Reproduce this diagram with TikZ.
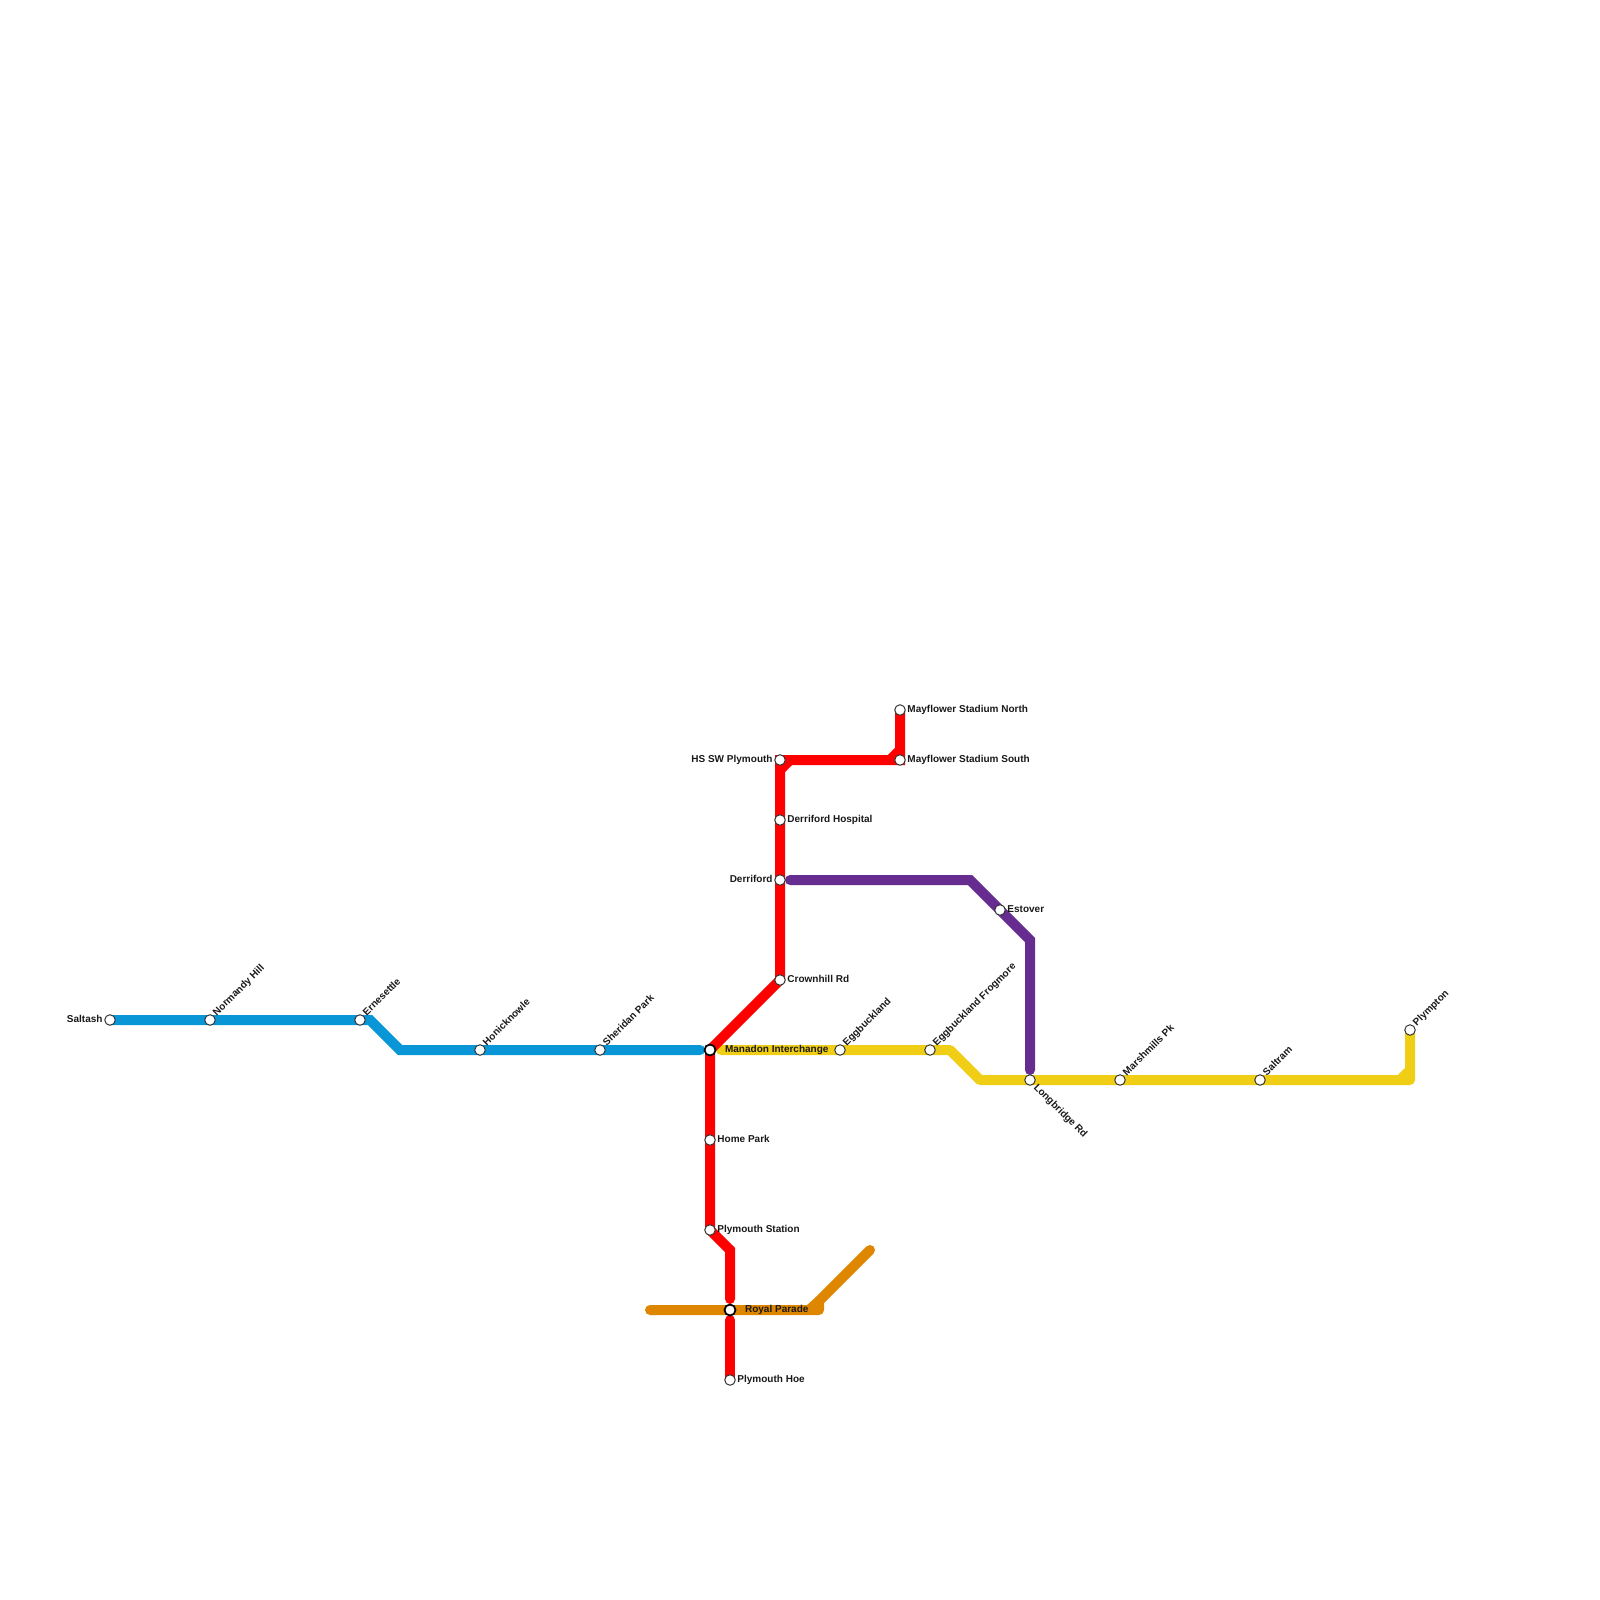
\documentclass[tikz,border=0pt]{standalone}
\usepackage{fontspec}
\setmainfont{Liberation Sans}
\usetikzlibrary{backgrounds,positioning}
\definecolor{LineBlue}{HTML}{0896D7}
\definecolor{LineRed}{HTML}{FF0000}
\definecolor{LineYellow}{HTML}{F0CE15}
\definecolor{LinePurple}{HTML}{662C90}
\definecolor{LineOrange}{HTML}{DF8600}
\tikzset{
  stn/.style={circle, draw=black!80, fill=white, line width=0.28pt, minimum size=0.105cm, inner sep=0pt},
  xchg/.style={circle, draw=black, fill=white, line width=0.5pt, minimum size=0.11cm, inner sep=0pt},
  lbl/.style={font=\fontsize{2.845}{3.4}\selectfont\bfseries, text=black!90, inner sep=0pt, text height=0.075cm, text depth=0.018cm},
  lblr/.style={lbl, anchor=west, xshift=0.01cm},
  lbll/.style={lbl, anchor=east, xshift=-0.01cm},
  lblup/.style={lbl, anchor=west, rotate=45, xshift=0.01cm, yshift=0.005cm},
  lbldown/.style={lbl, anchor=west, rotate=-45, xshift=0.015cm, yshift=-0.005cm},
  metro/.style={line width=0.1cm, line join=miter, line cap=butt}
}
\begin{document}
\begin{tikzpicture}[x=0.01cm, y=-0.01cm]
\useasboundingbox (0,0) rectangle (1600,1600);
% stations
\node[stn] (saltash) at (110,1020) {};
\node[stn] (normandy) at (210,1020) {};
\node[stn] (ernesettle) at (360,1020) {};
\node[stn] (honicknowle) at (480,1050) {};
\node[stn] (sheridan) at (600,1050) {};
\node[xchg] (manadon) at (710,1050) {};
\node[stn] (eggbuckland) at (840,1050) {};
\node[stn] (frogmore) at (930,1050) {};
\node[stn] (longbridge) at (1030,1080) {};
\node[stn] (marshmills) at (1120,1080) {};
\node[stn] (saltram) at (1260,1080) {};
\node[stn] (plympton) at (1410,1030) {};
\node[stn] (homepark) at (710,1140) {};
\node[stn] (plymstation) at (710,1230) {};
\node[xchg] (royalparade) at (730,1310) {};
\node[stn] (hoe) at (730,1380) {};
\node[stn] (crownhill) at (780,980) {};
\node[stn] (derriford) at (780,880) {};
\node[stn] (hospital) at (780,820) {};
\node[stn] (hssw) at (780,760) {};
\node[stn] (maysouth) at (900,760) {};
\node[stn] (maynorth) at (900,710) {};
\node[stn] (estover) at (1000,910) {};
% labels
\node[lbll] (saltashlbl) at (saltash.west) {Saltash};
\node[lblup] (normandylbl) at (normandy.north east) {Normandy Hill};
\node[lblup] (ernesettlelbl) at (ernesettle.north east) {Ernesettle};
\node[lblup] (honicknowlelbl) at (honicknowle.north east) {Honicknowle};
\node[lblup] (sheridanlbl) at (sheridan.north east) {Sheridan Park};
\node[lblup] (eggbucklandlbl) at (eggbuckland.north east) {Eggbuckland};
\node[lblup] (frogmorelbl) at (frogmore.north east) {Eggbuckland Frogmore};
\node[lblup] (marshmillslbl) at (marshmills.north east) {Marshmills Pk};
\node[lblup] (saltramlbl) at (saltram.north east) {Saltram};
\node[lblup] (plymptonlbl) at (plympton.north east) {Plympton};
\node[lbldown] (longbridgelbl) at (longbridge.south east) {Longbridge Rd};
\node[lblr, xshift=0.07cm] (manadonlbl) at (manadon.east) {Manadon Interchange};
\node[lblr, xshift=0.07cm] (royalparadelbl) at (royalparade.east) {Royal Parade};
\node[lblr] (homeparklbl) at (homepark.east) {Home Park};
\node[lblr] (plymstationlbl) at (plymstation.east) {Plymouth Station};
\node[lblr] (hoelbl) at (hoe.east) {Plymouth Hoe};
\node[lblr] (crownhilllbl) at (crownhill.east) {Crownhill Rd};
\node[lbll] (derrifordlbl) at (derriford.west) {Derriford};
\node[lblr] (hospitallbl) at (hospital.east) {Derriford Hospital};
\node[lbll] (hsswlbl) at (hssw.west) {HS SW Plymouth};
\node[lblr] (maysouthlbl) at (maysouth.east) {Mayflower Stadium South};
\node[lblr] (maynorthlbl) at (maynorth.east) {Mayflower Stadium North};
\node[lblr] (estoverlbl) at (estover.east) {Estover};
% bends and free ends
\coordinate (b0) at (370,1020);
\coordinate (b1) at (400,1050);
\coordinate (blueend) at (700,1050);
\coordinate (yellowstart) at (721,1050);
\coordinate (y1) at (950,1050);
\coordinate (y2) at (980,1080);
\coordinate (y3) at (1410,1080);
\coordinate (y3a) at (1400,1080);
\coordinate (y3b) at (1410,1070);
\coordinate (r1) at (730,1250);
\coordinate (r2) at (730,1299);
\coordinate (r3) at (730,1320);
\coordinate (r4) at (780,770);
\coordinate (r5) at (790,760);
\coordinate (r6) at (890,760);
\coordinate (r7) at (900,750);
\coordinate (p0) at (790,880);
\coordinate (p1) at (970,880);
\coordinate (p2) at (1030,940);
\coordinate (p3) at (1030,1070);
\coordinate (o0) at (650,1310);
\coordinate (o1) at (819,1310);
\coordinate (o2) at (819,1301);
\coordinate (o3) at (870,1250);
\coordinate (o4) at (809,1310);
% lines
\begin{scope}[on background layer]
\draw[metro, LineOrange, line cap=round, line join=round] (o0) -- (royalparade.center) -- (o1) -- (o2) -- (o3);
\draw[metro, LineOrange] (o4) -- (o2);
\draw[metro, LinePurple, line cap=round] (p0) -- (p1) -- (p2) -- (p3);
\draw[metro, LineYellow, line cap=round, line join=round] (yellowstart) -- (eggbuckland.center) -- (frogmore.center) -- (y1) -- (y2) -- (longbridge.center) -- (marshmills.center) -- (saltram.center) -- (y3) -- (plympton.center);
\draw[metro, LineYellow] (y3a) -- (y3b);
\draw[metro, LineBlue, line cap=round] (saltash.center) -- (normandy.center) -- (ernesettle.center) -- (b0) -- (b1) -- (honicknowle.center) -- (sheridan.center) -- (blueend);
\draw[metro, LineRed] (maynorth.center) -- (maysouth.center) -- (hssw.center) -- (hospital.center) -- (derriford.center) -- (crownhill.center) -- (manadon.center) -- (homepark.center) -- (plymstation.center) -- (r1) -- (r2);
\draw[metro, LineRed] (r4) -- (r5);
\draw[metro, LineRed] (r6) -- (r7);
\draw[metro, LineRed, line cap=round] (r1) -- (r2);
\draw[metro, LineRed, line cap=round] (r3) -- (hoe.center);
\end{scope}
\end{tikzpicture}
\end{document}
